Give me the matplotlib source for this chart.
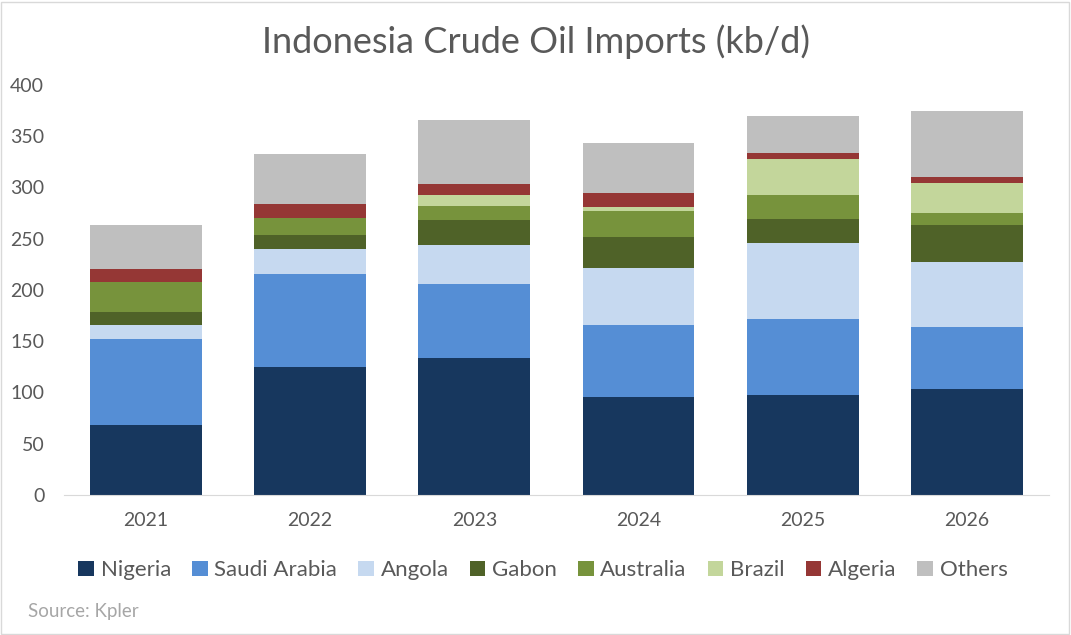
import matplotlib
matplotlib.use("Agg")
import matplotlib.pyplot as plt
import numpy as np
from matplotlib.patches import Rectangle

plt.rcParams['font.family'] = ['Lato', 'DejaVu Sans']

# data (kb/d)
years = ['2021', '2022', '2023', '2024', '2025', '2026']
nigeria = [68, 125, 134, 96, 98, 103]
saudi = [84, 91, 72, 70, 74, 61]
angola = [14, 24, 38, 55, 74, 63]
gabon = [12.5, 14, 24, 31, 23, 36]
australia = [29, 16, 14, 25, 24, 12]
brazil = [0, 0, 11, 4, 35, 29]
algeria = [13, 14, 10, 14, 6, 6]
others = [43, 49, 63, 48, 36, 65]

series = [('Nigeria', nigeria, '#17375E'),
          ('Saudi Arabia', saudi, '#558ED5'),
          ('Angola', angola, '#C6D9F0'),
          ('Gabon', gabon, '#4F6228'),
          ('Australia', australia, '#77933C'),
          ('Brazil', brazil, '#C3D69B'),
          ('Algeria', algeria, '#953735'),
          ('Others', others, '#BFBFBF')]

fig = plt.figure(figsize=(10.71, 6.35), dpi=100)
ax = fig.add_axes([0.0595, 0.2205, 0.92, 0.6457])

x = np.arange(len(years))
bottom = np.zeros(len(years))
for name, vals, col in series:
    vals = np.array(vals, dtype=float)
    ax.bar(x, vals, 0.68, bottom=bottom, color=col, label=name)
    bottom += vals

ax.set_xlim(-0.5, len(years) - 0.5)
ax.set_ylim(0, 400)
ax.set_yticks(range(0, 401, 50))
ax.set_xticks(x)
ax.set_xticklabels(years)
ax.tick_params(axis='both', length=0, labelsize=14, colors='#595959')
ax.tick_params(axis='x', pad=12)
ax.tick_params(axis='y', pad=14)
for s in ['top', 'right', 'left']:
    ax.spines[s].set_visible(False)
ax.spines['bottom'].set_color('#D9D9D9')

fig.text(0.5, 0.934, 'Indonesia Crude Oil Imports (kb/d)', ha='center', va='center',
         fontsize=26, color='#595959')

fig.legend(loc='center', bbox_to_anchor=(0.507, 0.102), ncol=8, frameon=False,
           fontsize=16, handlelength=0.7, handleheight=0.7, handletextpad=0.3,
           columnspacing=0.95, labelcolor='#595959')

fig.text(0.026, 0.037, 'Source: Kpler', fontsize=13.5, color='#A6A6A6', va='center')

fig.patches.append(Rectangle((0.001, 0.002), 0.997, 0.995, transform=fig.transFigure,
                             fill=False, edgecolor='#D9D9D9', linewidth=1))

fig.savefig('out.png', dpi=100)
